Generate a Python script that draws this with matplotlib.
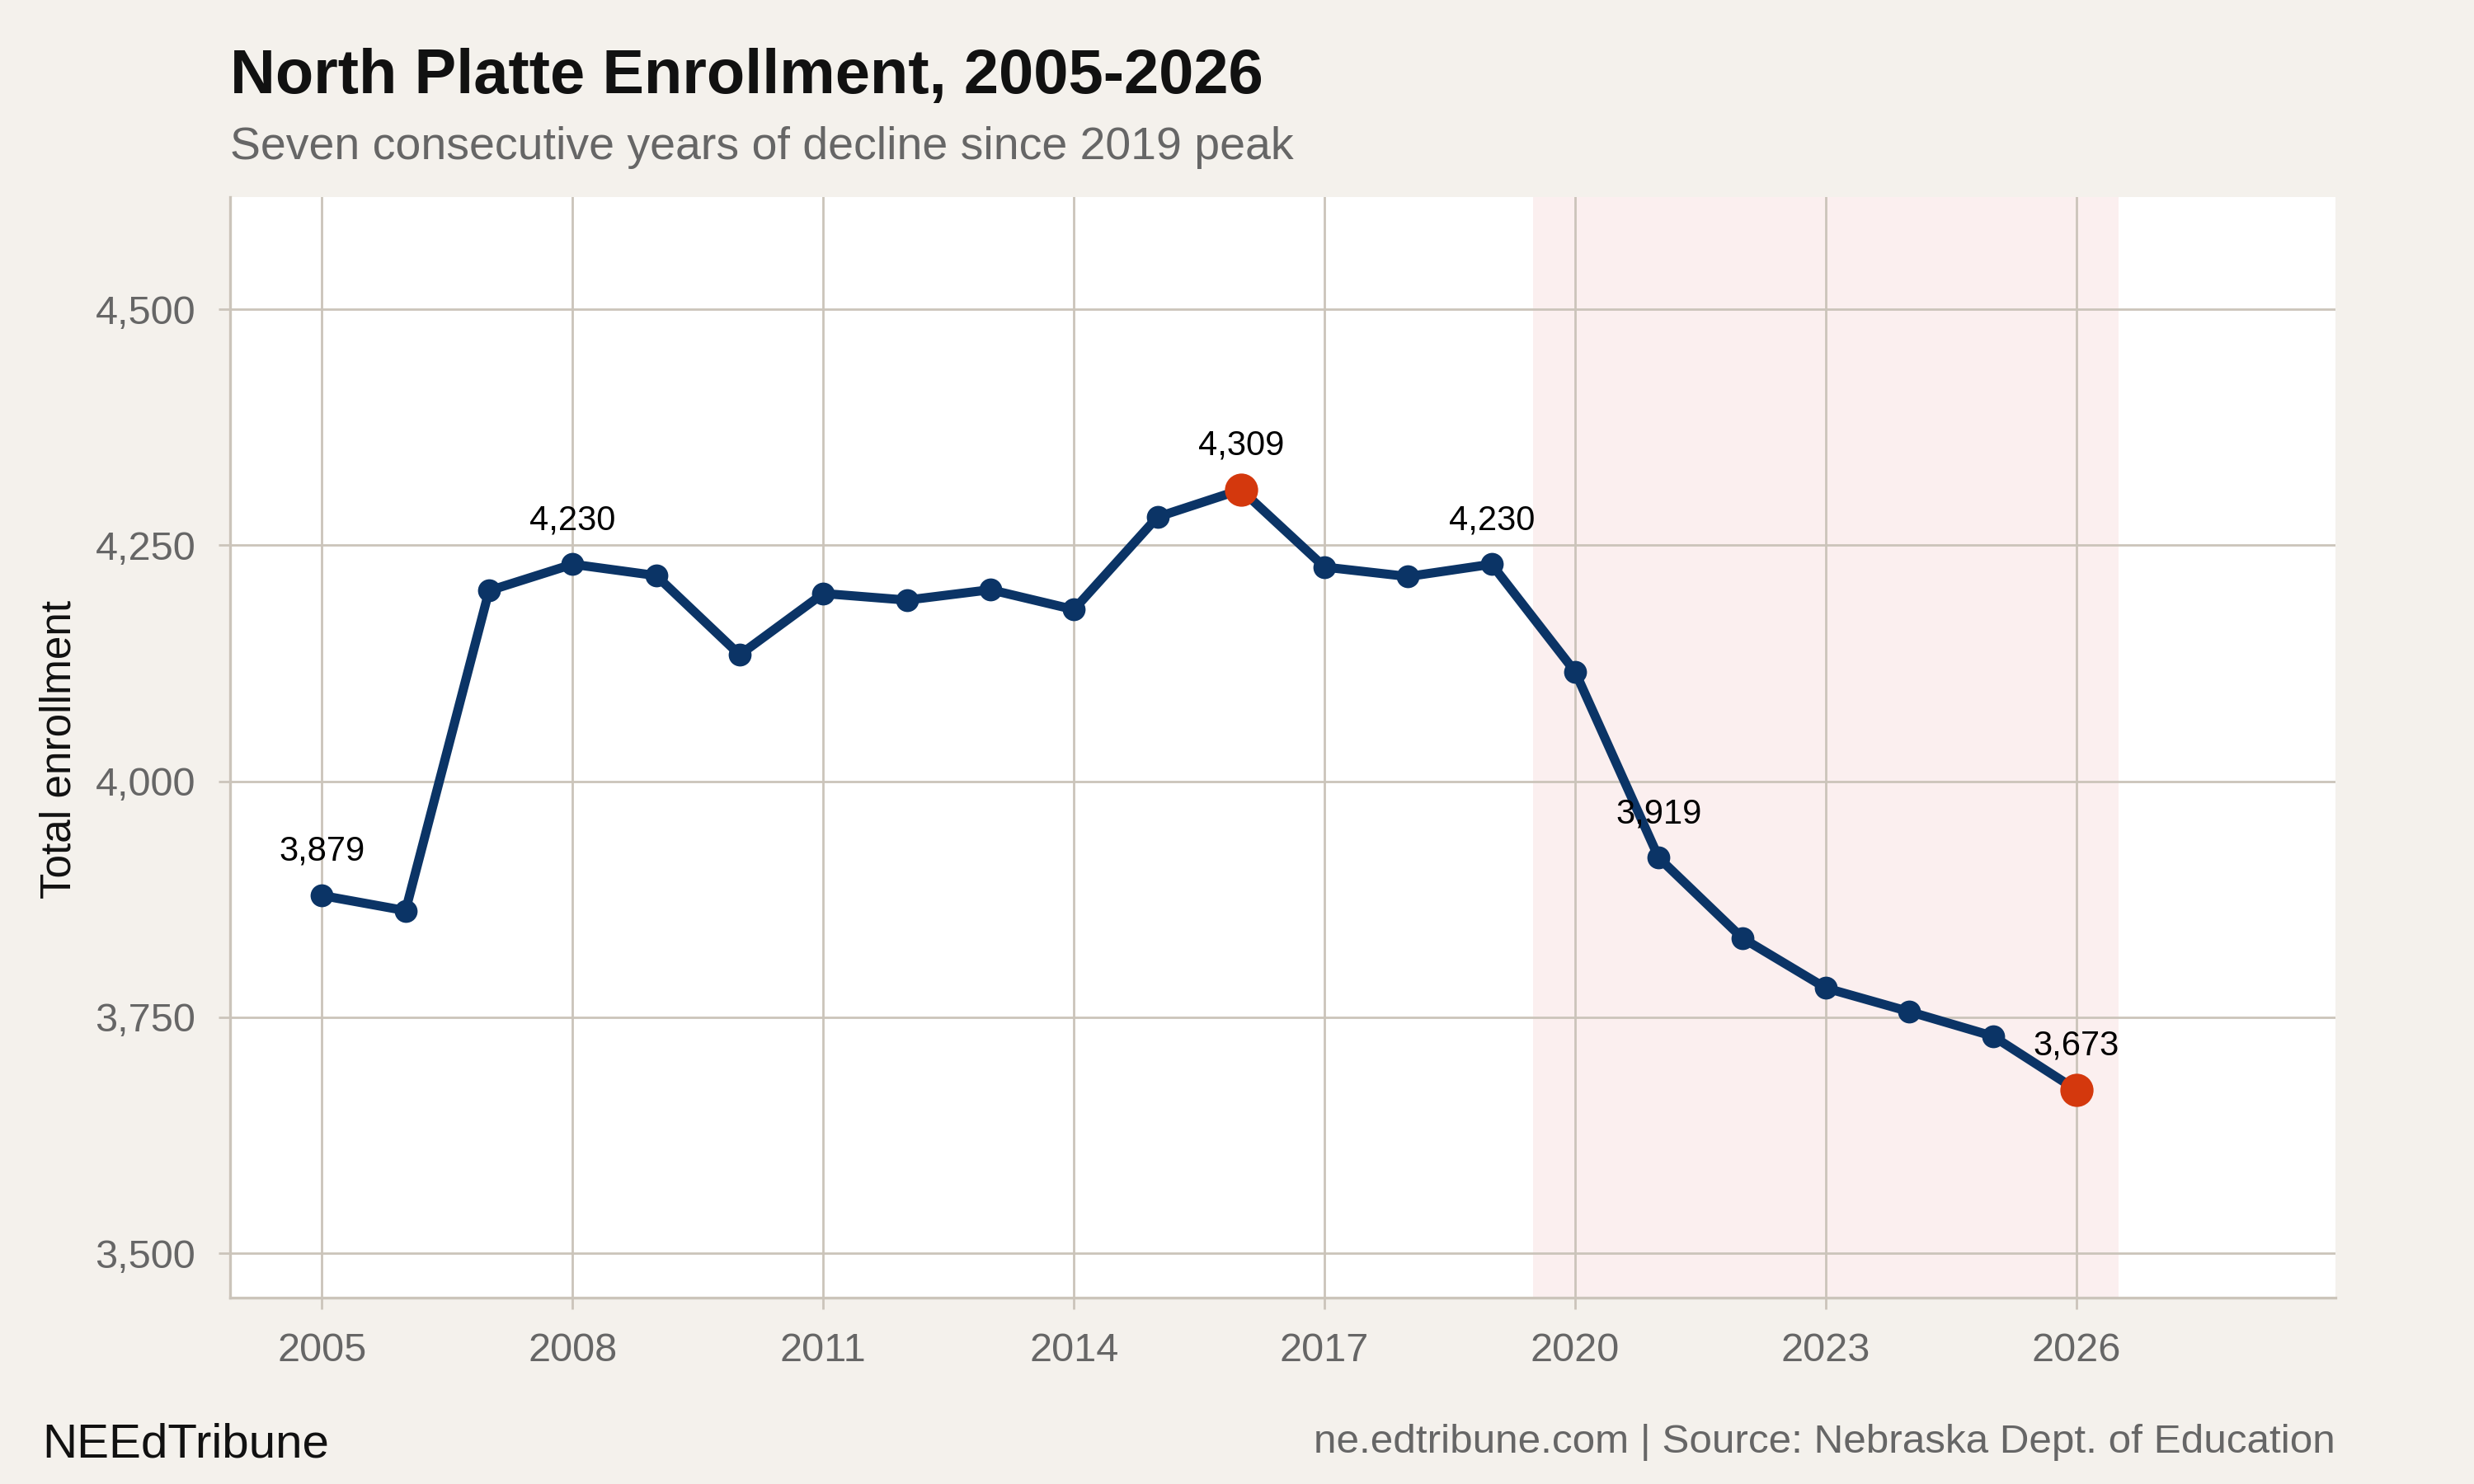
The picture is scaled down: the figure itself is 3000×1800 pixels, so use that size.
#----------------------------------------------------------------------
# import libraries
#----------------------------------------------------------------------

import matplotlib
matplotlib.use("Agg")
import matplotlib.pyplot as plt

plt.rcParams['font.family'] = ['Liberation Sans', 'DejaVu Sans']

#----------------------------------------------------------------------
# data: North Platte total enrollment by year
#----------------------------------------------------------------------

years = [2005, 2006, 2007, 2008, 2009, 2010, 2011, 2012, 2013, 2014, 2015,
         2016, 2017, 2018, 2019, 2020, 2021, 2022, 2023, 2024, 2025, 2026]
enrollment = [3879, 3863, 4202, 4230, 4218, 4134, 4199, 4192, 4203, 4182, 4280,
              4309, 4227, 4217, 4230, 4116, 3919, 3834, 3781, 3756, 3730, 3673]

labeled_years = [2005, 2008, 2016, 2019, 2021, 2026]
highlight_years = [2016, 2026]
decline_span = [2019.5, 2026.5]

x_ticks = [2005, 2008, 2011, 2014, 2017, 2020, 2023, 2026]
y_ticks = [3500, 3750, 4000, 4250, 4500]

#----------------------------------------------------------------------
# colours
#----------------------------------------------------------------------

bg = '#F4F1EC'
navy = '#0B3466'
orange = '#D4380D'
grid_c = '#CBC4BA'
gray_txt = '#666666'

#----------------------------------------------------------------------
# figure
#----------------------------------------------------------------------

fig = plt.figure(figsize=(15, 9), dpi=200, facecolor=bg)
ax = fig.add_axes([0.093, 0.1256, 0.851, 0.7416])
ax.set_facecolor('white')

ax.axvspan(decline_span[0], decline_span[1], color='#FBEFEF', zorder=0, lw=0)

ax.plot(years, enrollment, color=navy, lw=4, zorder=3,
        marker='o', markersize=10, markerfacecolor=navy, markeredgewidth=0)

hx = [y for y in years if y in highlight_years]
hy = [v for y, v in zip(years, enrollment) if y in highlight_years]
ax.plot(hx, hy, 'o', color=orange, markersize=14.5, markeredgewidth=0, zorder=4)

for y, v in zip(years, enrollment):
    if y in labeled_years:
        ax.annotate(f'{v:,}', (y, v), xytext=(0, 12), textcoords='offset points',
                    ha='center', va='bottom', fontsize=15, color='black', zorder=5)

ax.set_xlim(2003.9, 2029.1)
ax.set_ylim(3453, 4619)
ax.set_xticks(x_ticks)
ax.set_yticks(y_ticks)
ax.set_yticklabels([f'{t:,}' for t in y_ticks])

ax.grid(True, color=grid_c, lw=1.0, zorder=1)
ax.set_axisbelow(True)
for s in ['top', 'right']:
    ax.spines[s].set_visible(False)
for s in ['left', 'bottom']:
    ax.spines[s].set_color(grid_c)
    ax.spines[s].set_linewidth(1.2)

ax.tick_params(axis='both', colors=grid_c, length=5, width=1.0,
               labelcolor=gray_txt, labelsize=17.5, pad=10)

#----------------------------------------------------------------------
# text
#----------------------------------------------------------------------

fig.text(0.093, 0.937, 'North Platte Enrollment, 2005-2026', fontsize=27.3,
         fontweight='bold', color='#111111', va='baseline', ha='left')
fig.text(0.093, 0.893, 'Seven consecutive years of decline since 2019 peak',
         fontsize=20, color=gray_txt, va='baseline', ha='left')
fig.text(0.024, 0.495, 'Total enrollment', rotation=90, fontsize=18.5,
         color='#111111', va='center', ha='center')
fig.text(0.017, 0.018, 'NEEdTribune', fontsize=21, color='#111111',
         va='baseline', ha='left')
fig.text(0.944, 0.021, 'ne.edtribune.com | Source: Nebraska Dept. of Education',
         fontsize=17.8, color=gray_txt, va='baseline', ha='right')

fig.savefig('out.png', dpi=200, facecolor=bg)
